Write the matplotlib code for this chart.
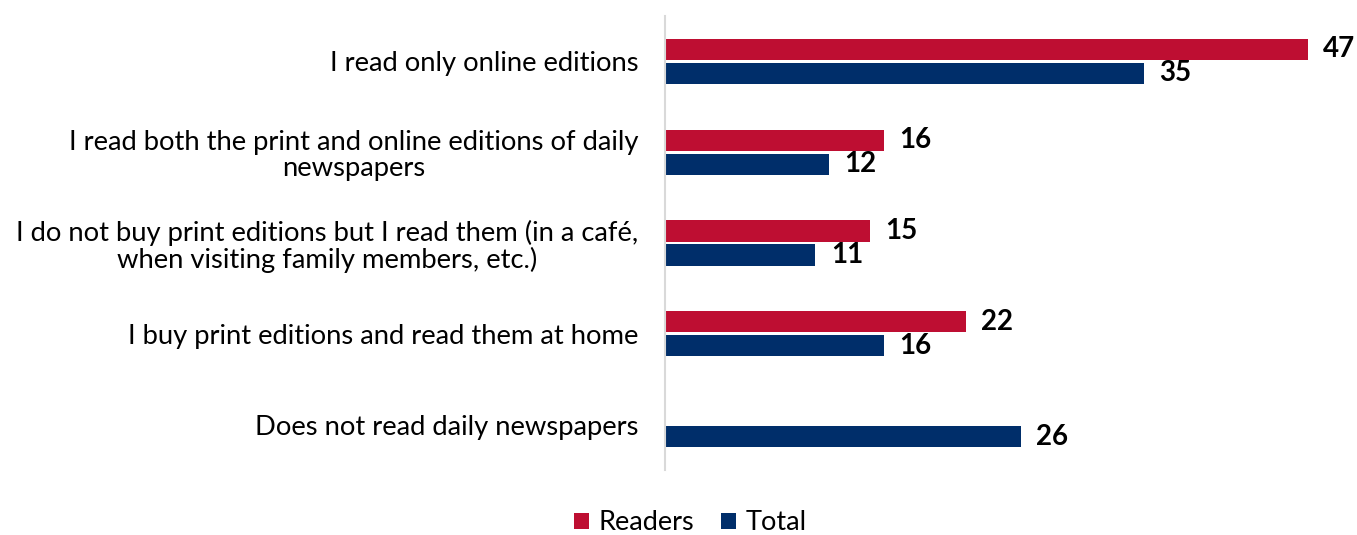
import numpy as np
import matplotlib.pyplot as plt

plt.rcParams['font.family'] = ['Lato', 'DejaVu Sans']

categories = [
    "I read only online editions",
    "I read both the print and online editions of daily\nnewspapers",
    "I do not buy print editions but I read them (in a café,\nwhen visiting family members, etc.)",
    "I buy print editions and read them at home",
    "Does not read daily newspapers",
]
readers = [47, 16, 15, 22, np.nan]
total = [35, 12, 11, 16, 26]

red = '#BE0E32'
blue = '#002E6A'

fig = plt.figure(figsize=(13.57, 5.35), dpi=100)
ax = fig.add_axes([665 / 1357, 1 - 470 / 535, 692 / 1357, 454 / 535])

y = np.arange(len(categories))
h = 0.232
off = 0.132
b1 = ax.barh(y - off, readers, height=h, color=red, label='Readers')
b2 = ax.barh(y + off, total, height=h, color=blue, label='Total')

for bars, vals in ((b1, readers), (b2, total)):
    for bar, v in zip(bars, vals):
        if np.isnan(v):
            continue
        ax.annotate(f'{v:g}', (v, bar.get_y() + bar.get_height() / 2),
                    xytext=(11, 0), textcoords='offset points',
                    ha='left', va='center', fontsize=20, fontweight='bold',
                    color='black')

ax.set_xlim(0, 692 / 13.68)
ax.set_ylim(4.5, -0.5)
ax.set_yticks(y)
ax.set_yticklabels(categories, fontsize=19.7, linespacing=1.08)
for t in ax.get_yticklabels():
    t.set_multialignment('center')
ax.tick_params(axis='y', length=0, pad=19)
ax.set_xticks([])
for s in ('top', 'right', 'bottom'):
    ax.spines[s].set_visible(False)
ax.spines['left'].set_color('#D9D9D9')
ax.spines['left'].set_linewidth(1.5)

fig.legend(handles=[b1, b2], loc='center', bbox_to_anchor=(690 / 1357, 1 - 523 / 535),
           ncol=2, frameon=False, fontsize=19.5, handlelength=0.55, handleheight=0.55,
           handletextpad=0.35, columnspacing=1.0)

fig.savefig('out.png', dpi=100)
